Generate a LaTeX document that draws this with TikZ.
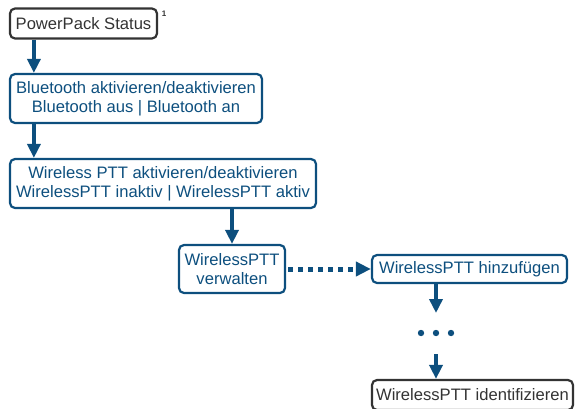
\documentclass[tikz,border=0pt]{standalone}
\usepackage{fontspec}
\setmainfont{Liberation Sans}
\usetikzlibrary{arrows.meta}
\definecolor{bl}{HTML}{0D4F7E}
\definecolor{dg}{HTML}{333333}
\tikzset{
  box/.style={draw=bl, text=bl, line width=2.2pt, rounded corners=5pt, align=center, inner sep=0pt, font=\fontsize{16.6}{18.5}\selectfont},
  gbox/.style={box, draw=dg, text=dg},
  arr/.style={draw=bl, line width=4.5pt, -{Triangle[width=13pt,length=14pt]}},
  darr/.style={arr, line width=5pt, dash pattern=on 4.5pt off 5.5pt, -{Triangle[width=14pt,length=15pt]}}
}
\begin{document}
\begin{tikzpicture}[x=1pt,y=-1pt]
\useasboundingbox (0,0) rectangle (575,408);
\begin{scope}
\clip (0,0) rectangle (575,408);
\node[gbox, minimum width=147pt, minimum height=30pt] (b1) at (83.5,23.5) {PowerPack Status};
\node[font=\fontsize{8}{9}\selectfont\bfseries, text=dg, inner sep=0pt] (sup) at (164,14) {1};
\node[box, minimum width=252pt, minimum height=49pt] (b2) at (136,98.5) {Bluetooth aktivieren/deaktivieren\\Bluetooth aus | Bluetooth an};
\node[box, minimum width=306pt, minimum height=49pt] (b3) at (163,183.5) {Wireless PTT aktivieren/deaktivieren\\WirelessPTT inaktiv | WirelessPTT aktiv};
\node[box, minimum width=106pt, minimum height=48pt] (b4) at (232,269) {WirelessPTT\\verwalten};
\node[box, minimum width=195pt, minimum height=28pt] (b5) at (469.5,269) {WirelessPTT hinzufügen};
\node[gbox, minimum width=201pt, minimum height=30pt] (b6) at (472.5,395) {WirelessPTT identifizieren};
\coordinate (m1) at (436,313);
\coordinate (m2) at (436,354);
\draw[arr] ([xshift=25pt]b1.south west) -- ([xshift=25pt]b2.north west);
\draw[arr] ([xshift=25pt]b2.south west) -- ([xshift=25pt]b3.north west);
\draw[arr] (b3.south -| b4.north) -- (b4.north);
\draw[darr] ([xshift=2pt]b4.east) -- (b5.west);
\draw[arr] (b5.south -| m1) -- (m1);
\draw[arr] (m2) -- (b6.north -| m2);
\foreach \x in {421,436,451} \fill[bl] (\x,333) circle (3.2pt);
\end{scope}
\end{tikzpicture}
\end{document}
